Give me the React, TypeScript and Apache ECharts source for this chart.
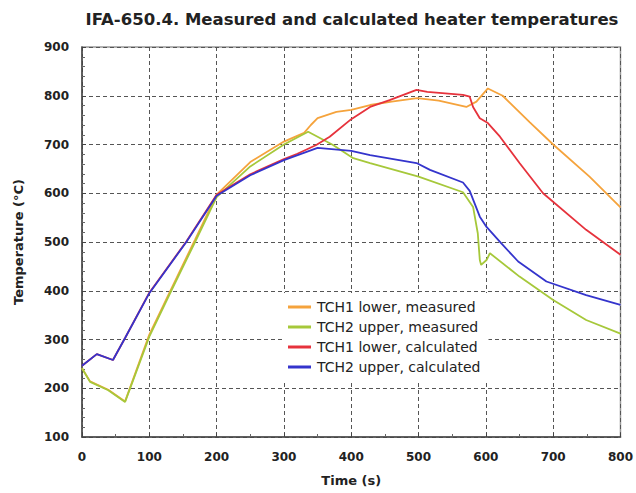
import React, { useEffect, useRef } from "react";
import * as echarts from "echarts";

const seriesNames = [
  "TCH1 lower, measured",
  "TCH2 upper, measured",
  "TCH1 lower, calculated",
  "TCH2 upper, calculated",
];
const seriesColors = ["#f5a33c", "#a6c83a", "#e6323c", "#3434cc"];

const tch1MeasTime = [0, 12, 39, 64, 100, 133, 168, 200, 250, 300, 330, 340, 350, 378, 400, 428, 460, 498, 530, 571, 586, 603, 625, 665, 700, 754, 800];
const tch1MeasTemp = [241, 214, 197, 173, 310, 405, 505, 597, 664, 706, 724, 740, 754, 767, 771, 781, 788, 795, 790, 777, 788, 815, 800, 746, 700, 634, 571];

const tch2MeasTime = [0, 12, 39, 64, 100, 133, 168, 200, 250, 300, 336, 373, 403, 428, 500, 566, 581, 588, 591, 593, 601, 606, 650, 700, 749, 800];
const tch2MeasTemp = [241, 213, 196, 172, 306, 401, 500, 592, 655, 700, 726, 699, 672, 662, 634, 602, 572, 518, 463, 453, 463, 477, 429, 381, 340, 312];

const tch1CalcTime = [0, 22, 46, 64, 100, 155, 200, 250, 300, 320, 348, 368, 400, 428, 457, 497, 513, 566, 576, 581, 591, 603, 621, 650, 685, 749, 800];
const tch1CalcTemp = [246, 270, 258, 303, 396, 501, 597, 639, 670, 681, 699, 716, 752, 777, 791, 812, 808, 802, 798, 777, 754, 744, 716, 662, 600, 525, 474];

const tch2CalcTime = [0, 22, 46, 64, 100, 155, 200, 250, 300, 350, 400, 428, 497, 517, 566, 576, 591, 601, 623, 648, 690, 749, 800];
const tch2CalcTemp = [246, 270, 258, 303, 395, 500, 595, 637, 668, 693, 687, 678, 662, 648, 622, 605, 552, 531, 497, 460, 419, 391, 371];

const xTicks = { min: 0, max: 800, interval: 100 };
const yTicks = { min: 100, max: 900, interval: 100 };

const zip = (t: number[], v: number[]) => t.map((x, i) => [x, v[i]]);

export default function App() {
  const ref = useRef<HTMLDivElement>(null);
  useEffect(() => {
    if (!ref.current) return;
    const chart = echarts.init(ref.current, null, { renderer: "svg" });
    const font = "DejaVu Sans";
    const pairs = [
      zip(tch1MeasTime, tch1MeasTemp),
      zip(tch2MeasTime, tch2MeasTemp),
      zip(tch1CalcTime, tch1CalcTemp),
      zip(tch2CalcTime, tch2CalcTemp),
    ];
    const splitLine = {
      show: true,
      lineStyle: { color: "#555", type: [4, 3] as any, width: 1 },
    };
    chart.setOption({
      animation: false,
      backgroundColor: "#fff",
      grid: {
        left: 82,
        right: 15,
        top: 47,
        bottom: 56,
        show: true,
        borderColor: "#999",
        borderWidth: 1.5,
        backgroundColor: "transparent",
      },
      graphic: [
        {
          type: "text",
          x: 352,
          y: 19,
          style: {
            text: "IFA-650.4. Measured and calculated heater temperatures",
            font: `bold 16.5px "${font}"`,
            fill: "#222",
            textAlign: "center",
            textVerticalAlign: "middle",
          },
        },
      ],
      legend: {
        orient: "vertical",
        left: 284,
        top: 293,
        backgroundColor: "#fff",
        padding: [7, 8, 8, 4],
        itemWidth: 23,
        itemHeight: 3,
        itemGap: 6,
        icon: "rect",
        textStyle: { fontFamily: font, fontSize: 14, color: "#222", padding: [0, 0, 0, 1] },
        data: seriesNames,
      },
      xAxis: {
        type: "value",
        min: xTicks.min,
        max: xTicks.max,
        interval: xTicks.interval,
        name: "Time (s)",
        nameLocation: "middle",
        nameGap: 37,
        nameTextStyle: { fontFamily: font, fontWeight: "bold", fontSize: 13, color: "#222" },
        axisLine: { show: true, lineStyle: { color: "#444", width: 1.5 } },
        axisTick: { show: true, inside: true, length: 4, lineStyle: { color: "#444" } },
        minorTick: { show: true, splitNumber: 2, length: 3, lineStyle: { color: "#666" } },
        axisLabel: { fontFamily: font, fontWeight: "bold", fontSize: 12, color: "#222", margin: 14 },
        splitLine,
      },
      yAxis: {
        type: "value",
        min: yTicks.min,
        max: yTicks.max,
        interval: yTicks.interval,
        name: "Temperature (°C)",
        nameLocation: "middle",
        nameRotate: 90,
        nameGap: 57,
        nameTextStyle: { fontFamily: font, fontWeight: "bold", fontSize: 13, color: "#222" },
        axisLine: { show: true, lineStyle: { color: "#444", width: 1.5 } },
        axisTick: { show: true, inside: true, length: 4, lineStyle: { color: "#444" } },
        minorTick: { show: true, splitNumber: 5, length: 3, lineStyle: { color: "#666" } },
        axisLabel: { fontFamily: font, fontWeight: "bold", fontSize: 12, color: "#222", margin: 13 },
        splitLine,
      },
      series: seriesNames.map((name, i) => ({
        name,
        type: "line",
        data: pairs[i],
        showSymbol: false,
        symbol: "none",
        smooth: false,
        color: seriesColors[i],
        lineStyle: { color: seriesColors[i], width: 1.8 },
        z: 2 + i,
      })),
    });
    return () => chart.dispose();
  }, []);
  return (
    <div
      ref={ref}
      style={{ position: "fixed", left: 0, top: 0, width: 636, height: 493 }}
    />
  );
}
